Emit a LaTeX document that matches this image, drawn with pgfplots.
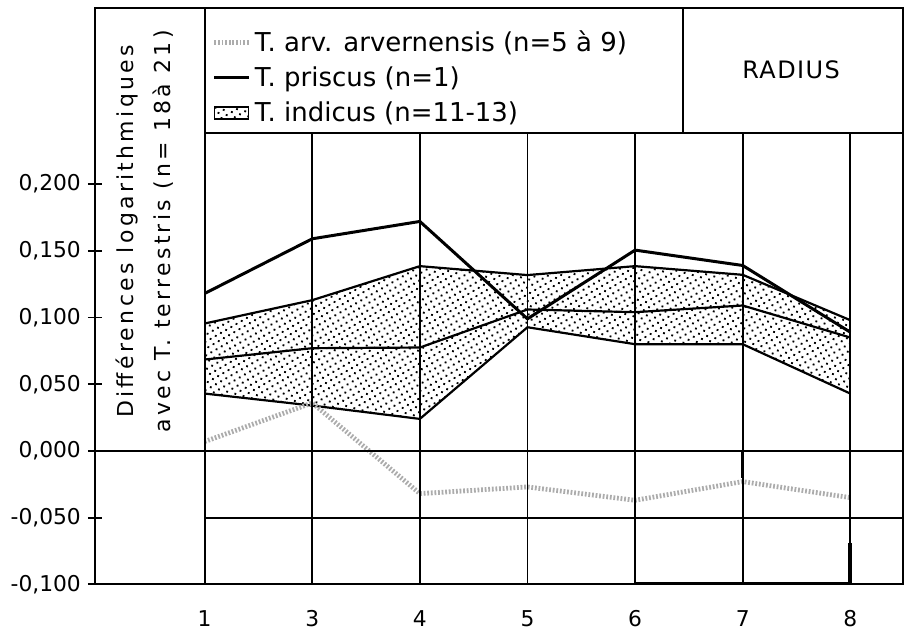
\documentclass[border=0pt]{standalone}
\usepackage{fontspec}
\setmainfont{DejaVu Sans}
\newfontfamily\labfont[LetterSpace=15]{DejaVu Sans}
\newfontfamily\radfont[LetterSpace=6]{DejaVu Sans}
\usepackage{pgfplots}
\usepackage{pgfplotstable}
\pgfplotsset{compat=1.18}
\usepgfplotslibrary{fillbetween}
\usetikzlibrary{patterns.meta}

\pgfplotstableread{
x arv pri up mean lo
1 0.007 0.118 0.0955 0.0685 0.043
2 0.036 0.159 0.113 0.077 0.034
3 -0.032 0.172 0.1385 0.0775 0.024
4 -0.027 0.099 0.1318 0.106 0.0927
5 -0.037 0.1505 0.1385 0.104 0.080
6 -0.023 0.139 0.132 0.109 0.080
7 -0.035 0.089 0.098 0.085 0.043
}\data

\begin{document}
\begin{tikzpicture}
\begin{axis}[
  width=404.5pt, height=288.5pt, scale only axis,
  xmin=-0.02, xmax=7.49, ymin=-0.1, ymax=0.332,
  axis line style={line width=1pt},
  xtick={1,...,7}, xticklabels={1,3,4,5,6,7,8},
  xtick style={draw=none},
  ytick={-0.1,-0.05,0,0.05,0.1,0.15,0.2},
  ytick pos=left, xtick pos=bottom,
  tick align=center, major tick length=7pt,
  ytick style={line width=0.9pt, black},
  tick label style={font=\fontsize{10.9}{12}\selectfont},
  xticklabel style={yshift=-6pt},
  yticklabel style={/pgf/number format/.cd, fixed, fixed zerofill, precision=3, use comma, assume math mode=true},
  legend style={at={(axis cs:1.065,0.3185)}, anchor=north west, draw=none, fill=none,
    font=\fontsize{13}{15.6}\selectfont, row sep=2.2pt, inner sep=0pt},
  legend cell align=left,
]
\addlegendimage{gray!65, line width=2.4pt, dash pattern=on 0.9pt off 0.9pt}
\addlegendentry{T. arv. arvernensis (n=5 à 9)}
\addlegendimage{black, line width=1.5pt}
\addlegendentry{T. priscus (n=1)}
\addlegendimage{area legend, draw=black, line width=0.9pt, pattern={Dots[radius=0.65pt,distance=3pt,angle=30]}}
\addlegendentry{T. indicus (n=11-13)}

\addplot[forget plot, name path=up, black, line width=1.1pt] table[x=x,y=up]{\data};
\addplot[forget plot, name path=lo, black, line width=1.1pt] table[x=x,y=lo]{\data};
\addplot[forget plot, pattern={Dots[radius=0.65pt,distance=3pt,angle=30]}] fill between[of=up and lo];
\addplot[forget plot, black, line width=1.1pt] table[x=x,y=mean]{\data};
\addplot[forget plot, black, line width=1.5pt] table[x=x,y=pri]{\data};
\addplot[forget plot, gray!65, line width=2.4pt, dash pattern=on 0.9pt off 0.9pt] table[x=x,y=arv]{\data};

% frame structure
\draw[line width=0.9pt] (axis cs:1,0.332) -- (axis cs:1,-0.1);
\pgfplotsinvokeforeach{2,...,7}{\draw[line width=0.9pt] (axis cs:#1,0.2383) -- (axis cs:#1,-0.1);}
\draw[line width=1pt] (axis cs:1,0.2383) -- (axis cs:7.49,0.2383);
\draw[line width=1pt] (axis cs:5.448,0.2383) -- (axis cs:5.448,0.332);
\draw[line width=1pt] (axis cs:-0.02,0) -- (axis cs:7.49,0);
\draw[line width=1pt] (axis cs:1,-0.05) -- (axis cs:7.49,-0.05);
\draw[line width=2pt] (axis cs:5,-0.1) -- (axis cs:7,-0.1);
\draw[line width=2pt] (axis cs:7,-0.069) -- (axis cs:7,-0.1);
\draw[line width=1.6pt] (axis cs:6,0) -- (axis cs:6,-0.02);

\node[rotate=90, align=center, font=\labfont\fontsize{11}{18.5}\selectfont] at (axis cs:0.443,0.1645)
  {Différences logarithmiques\\avec T. terrestris (n= 18à 21)};
\node[font=\radfont\fontsize{12}{14}\selectfont] at (axis cs:6.45,0.286) {RADIUS};
\end{axis}
\path ([shift={(-47.5pt,-20.5pt)}]current axis.south west) rectangle ([shift={(0pt,4pt)}]current axis.north east);
\end{tikzpicture}
\end{document}
